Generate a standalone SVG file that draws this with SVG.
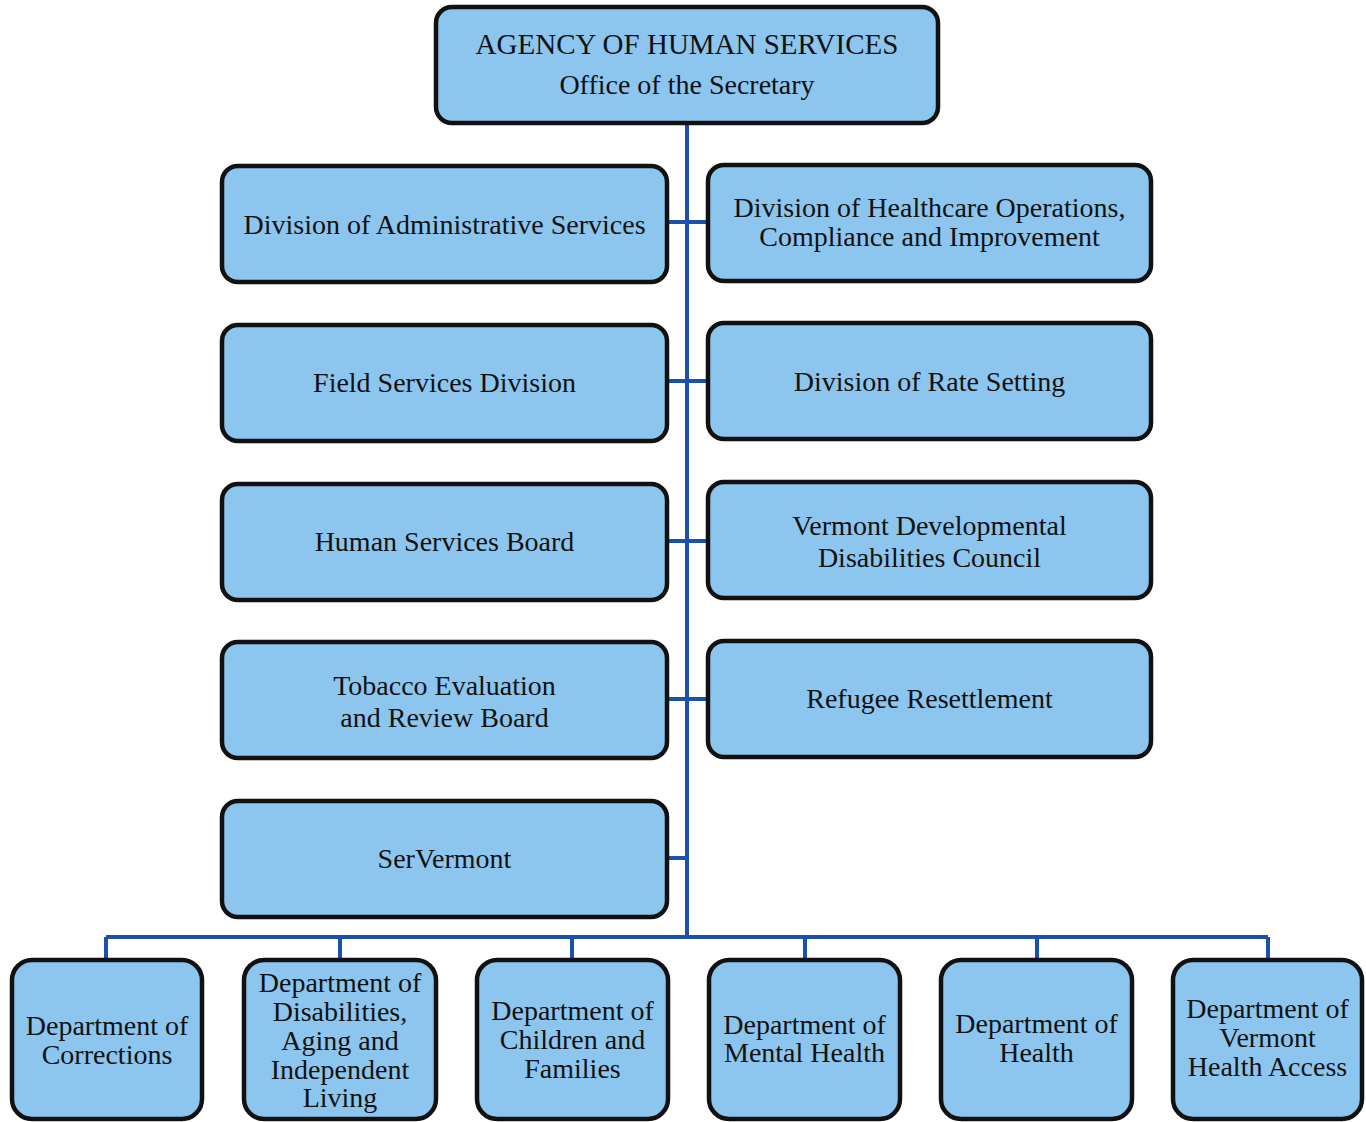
<svg xmlns="http://www.w3.org/2000/svg" width="1366" height="1122" viewBox="0 0 1366 1122">
<style>
.box{fill:#8cc6ef;stroke:#111;stroke-width:4.5}
.t{font-family:'Liberation Serif','Times New Roman',Times,'Noto Serif','DejaVu Serif',serif;font-size:28px;fill:#111;text-anchor:middle}
.c{stroke:#1d4fae;stroke-width:4;fill:none}
</style>
<rect width="1366" height="1122" fill="#fff"/>
<g id="connectors">
<path class="c" d="M687 123V937M667 222H708M667 381H708M667 541H708M667 699H708M667 858H687M106 937H1268M106 937V960M340 937V960M572 937V960M805 937V960M1037 937V960M1268 937V960"/>
</g>
<g id="n-agency"><rect class="box" x="436" y="7" width="502" height="116" rx="16"/><text class="t" x="687" y="54" style="font-size:29px">AGENCY OF HUMAN SERVICES</text><text class="t" x="687" y="94">Office of the Secretary</text></g>
<g id="n-admin"><rect class="box" x="222" y="166" width="445" height="116" rx="16"/><text class="t" x="444.5" y="234">Division of Administrative Services</text></g>
<g id="n-field"><rect class="box" x="222" y="325" width="445" height="116" rx="16"/><text class="t" x="444.5" y="392">Field Services Division</text></g>
<g id="n-hsb"><rect class="box" x="222" y="484" width="445" height="116" rx="16"/><text class="t" x="444.5" y="551">Human Services Board</text></g>
<g id="n-tobacco"><rect class="box" x="222" y="642" width="445" height="116" rx="16"/><text class="t" x="444.5" y="695">Tobacco Evaluation</text><text class="t" x="444.5" y="727">and Review Board</text></g>
<g id="n-servermont"><rect class="box" x="222" y="801" width="445" height="116" rx="16"/><text class="t" x="444.5" y="868">SerVermont</text></g>
<g id="n-healthcare"><rect class="box" x="708" y="165" width="443" height="116" rx="16"/><text class="t" x="929.5" y="217">Division of Healthcare Operations,</text><text class="t" x="929.5" y="246">Compliance and Improvement</text></g>
<g id="n-rate"><rect class="box" x="708" y="323" width="443" height="116" rx="16"/><text class="t" x="929.5" y="391">Division of Rate Setting</text></g>
<g id="n-vddc"><rect class="box" x="708" y="482" width="443" height="116" rx="16"/><text class="t" x="929.5" y="535">Vermont Developmental</text><text class="t" x="929.5" y="567">Disabilities Council</text></g>
<g id="n-refugee"><rect class="box" x="708" y="641" width="443" height="116" rx="16"/><text class="t" x="929.5" y="708">Refugee Resettlement</text></g>
<g id="n-doc"><rect class="box" x="12" y="960" width="190" height="159" rx="20"/><text class="t" x="107" y="1035">Department of</text><text class="t" x="107" y="1064">Corrections</text></g>
<g id="n-dail"><rect class="box" x="244" y="960" width="192" height="159" rx="20"/><text class="t" x="340" y="992">Department of</text><text class="t" x="340" y="1021">Disabilities,</text><text class="t" x="340" y="1050">Aging and</text><text class="t" x="340" y="1079">Independent</text><text class="t" x="340" y="1107">Living</text></g>
<g id="n-dcf"><rect class="box" x="477" y="960" width="191" height="159" rx="20"/><text class="t" x="572.5" y="1020">Department of</text><text class="t" x="572.5" y="1049">Children and</text><text class="t" x="572.5" y="1078">Families</text></g>
<g id="n-dmh"><rect class="box" x="709" y="960" width="191" height="159" rx="20"/><text class="t" x="804.5" y="1034">Department of</text><text class="t" x="804.5" y="1062">Mental Health</text></g>
<g id="n-doh"><rect class="box" x="941" y="960" width="191" height="159" rx="20"/><text class="t" x="1036.5" y="1033">Department of</text><text class="t" x="1036.5" y="1062">Health</text></g>
<g id="n-dvha"><rect class="box" x="1173" y="960" width="189" height="159" rx="20"/><text class="t" x="1267.5" y="1018">Department of</text><text class="t" x="1267.5" y="1047">Vermont</text><text class="t" x="1267.5" y="1076">Health Access</text></g>
</svg>
